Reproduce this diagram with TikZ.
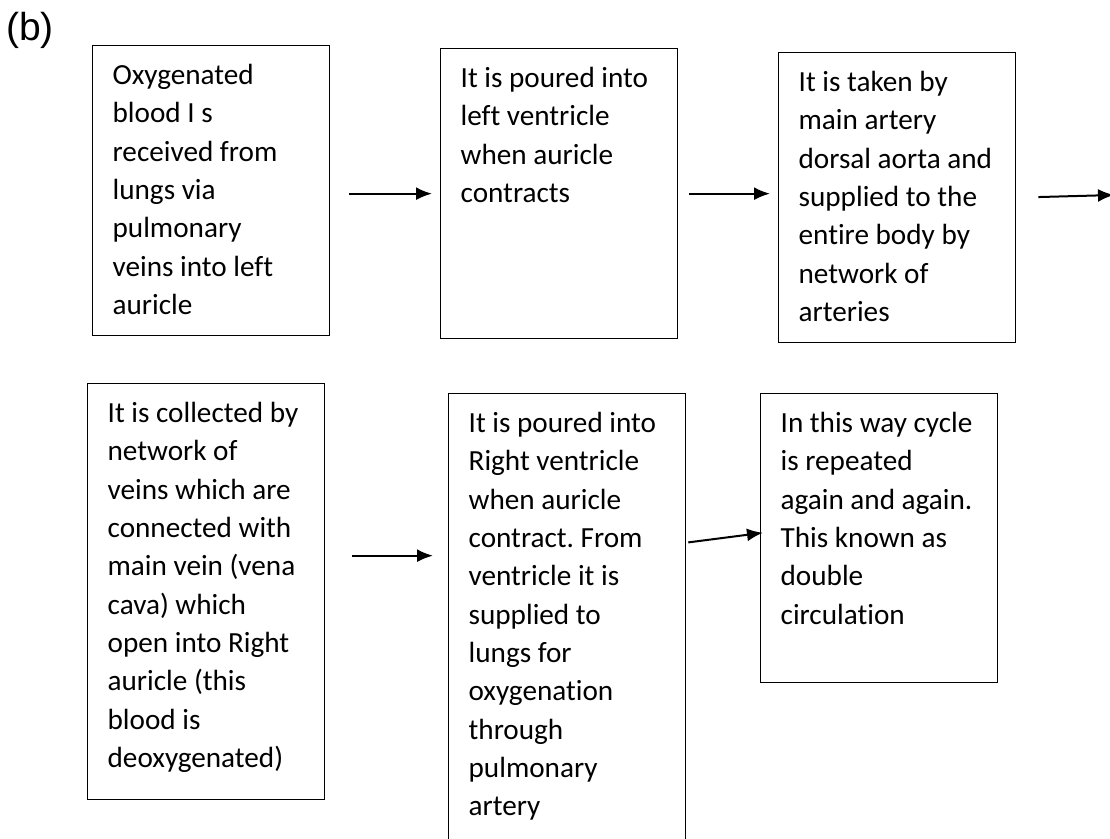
\documentclass[tikz,border=0pt]{standalone}
\usepackage{fontspec}
\setmainfont{Carlito}[Ligatures=NoCommon]
\newfontfamily\tagfont{Liberation Sans}
\usetikzlibrary{arrows.meta,positioning}
\tikzset{
  flow/.style={-{Latex[length=16pt,width=13pt]}, line width=2pt, draw=black},
  stagebox/.style={draw=black, line width=1.3pt, anchor=north west, align=flush left,
                   text width=197pt, inner xsep=20pt, inner ysep=0pt,
                   text height=39pt, font=\fontsize{29.2}{38.3}\selectfont\frenchspacing}
}

\begin{document}
\begin{tikzpicture}[x=1pt, y=-1pt]
  \clip (0,0) rectangle (1110,838);
  \node[anchor=base west, inner sep=0pt, font=\tagfont\fontsize{39}{42}\selectfont] (tag) at (6,40) {(b)};

  \node[stagebox, text depth=251pt] (lungs) at (92,45) {Oxygenated\\blood I s\\received from\\lungs via\\pulmonary\\veins into left\\auricle};
  \node[stagebox, text depth=251pt] (ventricle) at (440,48) {It is poured into\\left ventricle\\when auricle\\contracts};
  \node[stagebox, text depth=251pt] (aorta) at (778,52) {It is taken by\\main artery\\dorsal aorta and\\supplied to the\\entire body by\\network of\\arteries};
  \coordinate (onward) at (1114,195);

  \node[stagebox, text depth=377pt] (veins) at (87,383) {It is collected by\\network of\\veins which are\\connected with\\main vein (vena\\cava) which\\open into Right\\auricle (this\\blood is\\deoxygenated)};
  \node[stagebox, text depth=421pt] (rightvent) at (448,393) {It is poured into\\Right ventricle\\when auricle\\contract. From\\ventricle it is\\supplied to\\lungs for\\oxygenation\\through\\pulmonary\\artery};
  \node[stagebox, text depth=250pt] (cycle) at (760,393) {In this way cycle\\is repeated\\again and again.\\This known as\\double\\circulation};

  \draw[flow, shorten <=19pt, shorten >=8pt] (lungs.east |- ventricle.west) -- (ventricle.west);
  \draw[flow, shorten <=11pt, shorten >=8pt] (ventricle.east) -- (ventricle.east -| aorta.west);
  \draw[flow, shorten <=22pt] (aorta.east) -- (onward);
  \draw[flow, shorten <=27pt, shorten >=15pt] ([yshift=36pt]veins.east) -- ([yshift=36pt]veins.east -| rightvent.west);
  \draw[flow, shorten <=2pt, shorten >=-3pt] ([yshift=81pt]rightvent.east) -- ([yshift=5pt]cycle.west);
\end{tikzpicture}
\end{document}
